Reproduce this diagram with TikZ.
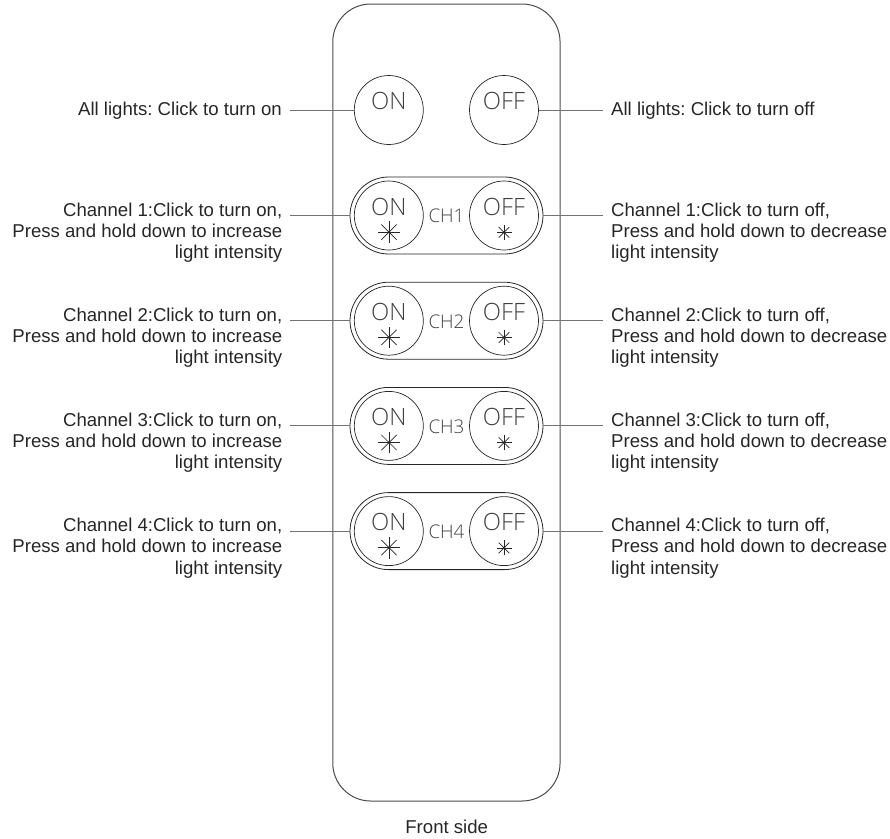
\documentclass[tikz,border=0pt]{standalone}
\usepackage{fontspec}
\setmainfont{Liberation Sans}
\newfontfamily\btnfont{Open Sans Light}
\tikzset{
  lbl/.style={inner sep=0pt, font=\frenchspacing\fontsize{18.6}{21.2}\selectfont, text=black!85},
  lead/.style={draw=black!55, line width=1pt},
  btn/.style={circle, draw=black!85, line width=0.7pt, minimum size=69pt, inner sep=0pt},
  btntxt/.style={inner sep=0pt, font=\btnfont\fontsize{23.8}{24}\selectfont, text=black!75},
  pill/.style={draw=black!85, line width=0.8pt, minimum width=193pt, minimum height=77pt, rounded corners=38.5pt, inner sep=0pt},
}
\newcommand{\starmark}[3]{% centre x, centre y, radius
  \foreach \a in {0,45,90,135} \draw[black!85, line width=0.7pt] (#1,#2)+(\a:#3) -- +(\a+180:#3);
  \fill[black!85] (#1,#2) circle (1.3pt);
}
\begin{document}
\begin{tikzpicture}[x=1pt, y=-1pt]
  \useasboundingbox (0,0) rectangle (890,838);
  \node[draw=black!70, line width=1pt, minimum width=227.3pt, minimum height=797pt, rounded corners=38pt, inner sep=0pt] (body) at (446.4,402.5) {}; % outline

  % all lights
  \node[btn] (allon) at (388.8,110) {};
  \node[btn] (alloff) at (504,110) {};
  \node[btntxt] (allontxt) at (388.8,101) {ON};
  \node[btntxt] (allofftxt) at (504,101) {OFF};
  \node[lbl, anchor=east] (allonlbl) at (282,110.5) {All lights: Click to turn on};
  \node[lbl, anchor=west] (alloffmsg) at (611,110.5) {All lights: Click to turn off};
  \coordinate (allonend) at (290,110);
  \coordinate (alloffend) at (603,110);
  \draw[lead] (allonend) -- (allon.west);
  \draw[lead] (alloff.east) -- (alloffend);

  % channels
  \foreach \i/\y in {1/215.5, 2/320.7, 3/425.9, 4/531.1} {
    \node[pill] (pill\i) at (446.5,\y) {};
    \node[btn] (on\i) at (388.8,\y) {};
    \node[btn] (off\i) at (504,\y) {};
    \node[btntxt] (ontxt\i) at (388.8,\y-9) {ON};
    \node[btntxt] (offtxt\i) at (504,\y-9) {OFF};
    \node[inner sep=0pt, font=\btnfont\fontsize{18.8}{19}\selectfont, text=black!75] (ch\i) at (446.5,\y+0.7) {CH\i};
    \starmark{389}{\y+16.6}{10.8}
    \starmark{504}{\y+16.8}{7.5}
    \node[lbl, anchor=north east, align=right] (onlbl\i) at (282.5,\y-13) {Channel \i:Click to turn on,\\Press and hold down to increase\\light intensity};
    \node[lbl, anchor=north west, align=left] (offlbl\i) at (611,\y-13) {Channel \i:Click to turn off,\\Press and hold down to decrease\\light intensity};
    \coordinate (onend\i) at (290,\y);
    \coordinate (offend\i) at (603,\y);
    \draw[lead] (onend\i) -- (onend\i -| pill\i.west);
    \draw[lead] (offend\i -| pill\i.east) -- (offend\i);
  }

  \node[lbl] (front) at (446.7,826.7) {Front side};
\end{tikzpicture}
\end{document}
